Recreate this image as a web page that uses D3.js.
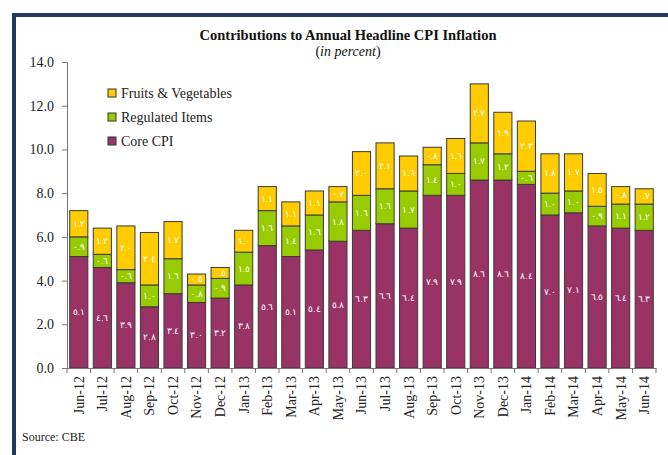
<!DOCTYPE html>
<html lang="en">
<head>
<meta charset="UTF-8">
<title>Contributions to Annual Headline CPI Inflation</title>
<script src="https://cdn.jsdelivr.net/npm/d3@7"></script>
<style>
  body { margin: 0; background: #fff; }
  text { font-family: "Liberation Serif", "Times New Roman", serif; }
</style>
</head>
<body>
<div id="chart"></div>
<script>
const months = ["Jun-12","Jul-12","Aug-12","Sep-12","Oct-12","Nov-12","Dec-12","Jan-13","Feb-13","Mar-13","Apr-13","May-13",
                "Jun-13","Jul-13","Aug-13","Sep-13","Oct-13","Nov-13","Dec-13","Jan-14","Feb-14","Mar-14","Apr-14","May-14","Jun-14"];
const coreCPI   = [5.1,4.6,3.9,2.8,3.4,3.0,3.2,3.8,5.6,5.1,5.4,5.8,6.3,6.6,6.4,7.9,7.9,8.6,8.6,8.4,7.0,7.1,6.5,6.4,6.3];
const regulated = [0.9,0.6,0.6,1.0,1.6,0.8,0.9,1.5,1.6,1.4,1.6,1.8,1.6,1.6,1.7,1.4,1.0,1.7,1.2,0.6,1.0,1.0,0.9,1.1,1.2];
const fruitsVeg = [1.2,1.2,2.0,2.4,1.7,0.5,0.5,1.0,1.1,1.1,1.1,0.7,2.0,2.1,1.6,0.8,1.6,2.7,1.9,2.3,1.8,1.7,1.5,0.8,0.7];
const yTicks = [0,2,4,6,8,10,12,14];

const width = 668, height = 455;
const svg = d3.select("#chart").append("svg")
    .attr("width", width).attr("height", height);

// frame
svg.append("rect")
    .attr("x", 14).attr("y", 15).attr("width", 700).attr("height", 500)
    .attr("fill", "none").attr("stroke", "#1f3a60").attr("stroke-width", 4);

// title
svg.append("text").attr("x", 348).attr("y", 40).attr("text-anchor", "middle")
    .attr("font-size", 14.5).attr("font-weight", "bold").attr("fill", "#111")
    .text("Contributions to Annual Headline CPI Inflation");
const sub = svg.append("text").attr("x", 348).attr("y", 56).attr("text-anchor", "middle")
    .attr("font-size", 14).attr("fill", "#111");
sub.append("tspan").text("(");
sub.append("tspan").attr("font-style", "italic").text("in percent");
sub.append("tspan").text(")");

const x = d3.scaleBand().domain(months).range([67, 656]).paddingInner(0.23).paddingOuter(0.115);
const y = d3.scaleLinear().domain([0, 14]).range([368, 62]);

// y axis
const yAxis = svg.append("g").attr("transform", "translate(67,0)")
    .call(d3.axisLeft(y).tickValues(yTicks).tickSize(5).tickPadding(8).tickFormat(d3.format(".1f")));
yAxis.select(".domain").attr("stroke", "#777");
yAxis.selectAll(".tick line").attr("stroke", "#777");
yAxis.selectAll("text").attr("font-size", 14).attr("fill", "#222")
    .attr("font-family", "Liberation Serif, serif");

// stacked data
const series = [
  { name: "Core CPI", values: coreCPI, color: "#993366" },
  { name: "Regulated Items", values: regulated, color: "#99cc00" },
  { name: "Fruits & Vegetables", values: fruitsVeg, color: "#ffcc00" }
];
const stackRows = months.map((m, i) => ({ month: m, core: coreCPI[i], reg: regulated[i], fv: fruitsVeg[i] }));
const stacked = d3.stack().keys(["core", "reg", "fv"])(stackRows);

const arabic = "٠١٢٣٤٥٦٧٨٩";
const toArabic = v => v.toFixed(1).replace(/[0-9]/g, d => arabic[+d]);

stacked.forEach((layer, li) => {
  const g = svg.append("g");
  g.selectAll("rect").data(layer).enter().append("rect")
      .attr("x", d => x(d.data.month))
      .attr("y", d => y(d[1]))
      .attr("width", x.bandwidth())
      .attr("height", d => y(d[0]) - y(d[1]))
      .attr("fill", series[li].color)
      .attr("stroke", "#3a3a3a").attr("stroke-width", 1);
  g.selectAll("text").data(layer).enter().append("text")
      .attr("x", d => x(d.data.month) + x.bandwidth() / 2)
      .attr("y", d => y((d[0] + d[1]) / 2) + 3)
      .attr("text-anchor", "middle")
      .attr("font-family", "DejaVu Sans, sans-serif")
      .attr("font-size", 9)
      .attr("fill", "#fff")
      .text(d => toArabic(d[1] - d[0]));
});

// x axis
const xAxis = svg.append("g").attr("transform", "translate(0,368)")
    .call(d3.axisBottom(x).tickSize(0).tickPadding(0));
xAxis.select(".domain").remove();
svg.append("line").attr("x1", 62).attr("x2", 656).attr("y1", 368.5).attr("y2", 368.5).attr("stroke", "#777");
svg.append("g").selectAll("line")
    .data(months.map(m => x(m) - x.step() * x.paddingInner() / 2).concat([656]))
    .enter().append("line")
    .attr("x1", d => d).attr("x2", d => d).attr("y1", 368).attr("y2", 373).attr("stroke", "#777");
xAxis.selectAll("text")
    .attr("font-size", 14).attr("fill", "#222").attr("font-family", "Liberation Serif, serif")
    .attr("transform", "rotate(-90)")
    .attr("text-anchor", "end")
    .attr("x", -8).attr("y", 0).attr("dy", "0.35em");

// legend
const legend = svg.append("g");
const legendItems = [series[2], series[1], series[0]];
legendItems.forEach((s, i) => {
  const ly = 93 + i * 24;
  legend.append("rect").attr("x", 108).attr("y", ly - 4).attr("width", 8).attr("height", 8)
      .attr("fill", s.color).attr("stroke", "#333").attr("stroke-width", 1);
  legend.append("text").attr("x", 121).attr("y", ly + 5)
      .attr("font-size", 14).attr("fill", "#222").text(s.name);
});

// source
svg.append("text").attr("x", 22).attr("y", 441).attr("font-size", 12).attr("fill", "#222")
    .text("Source:  CBE");
</script>
</body>
</html>
